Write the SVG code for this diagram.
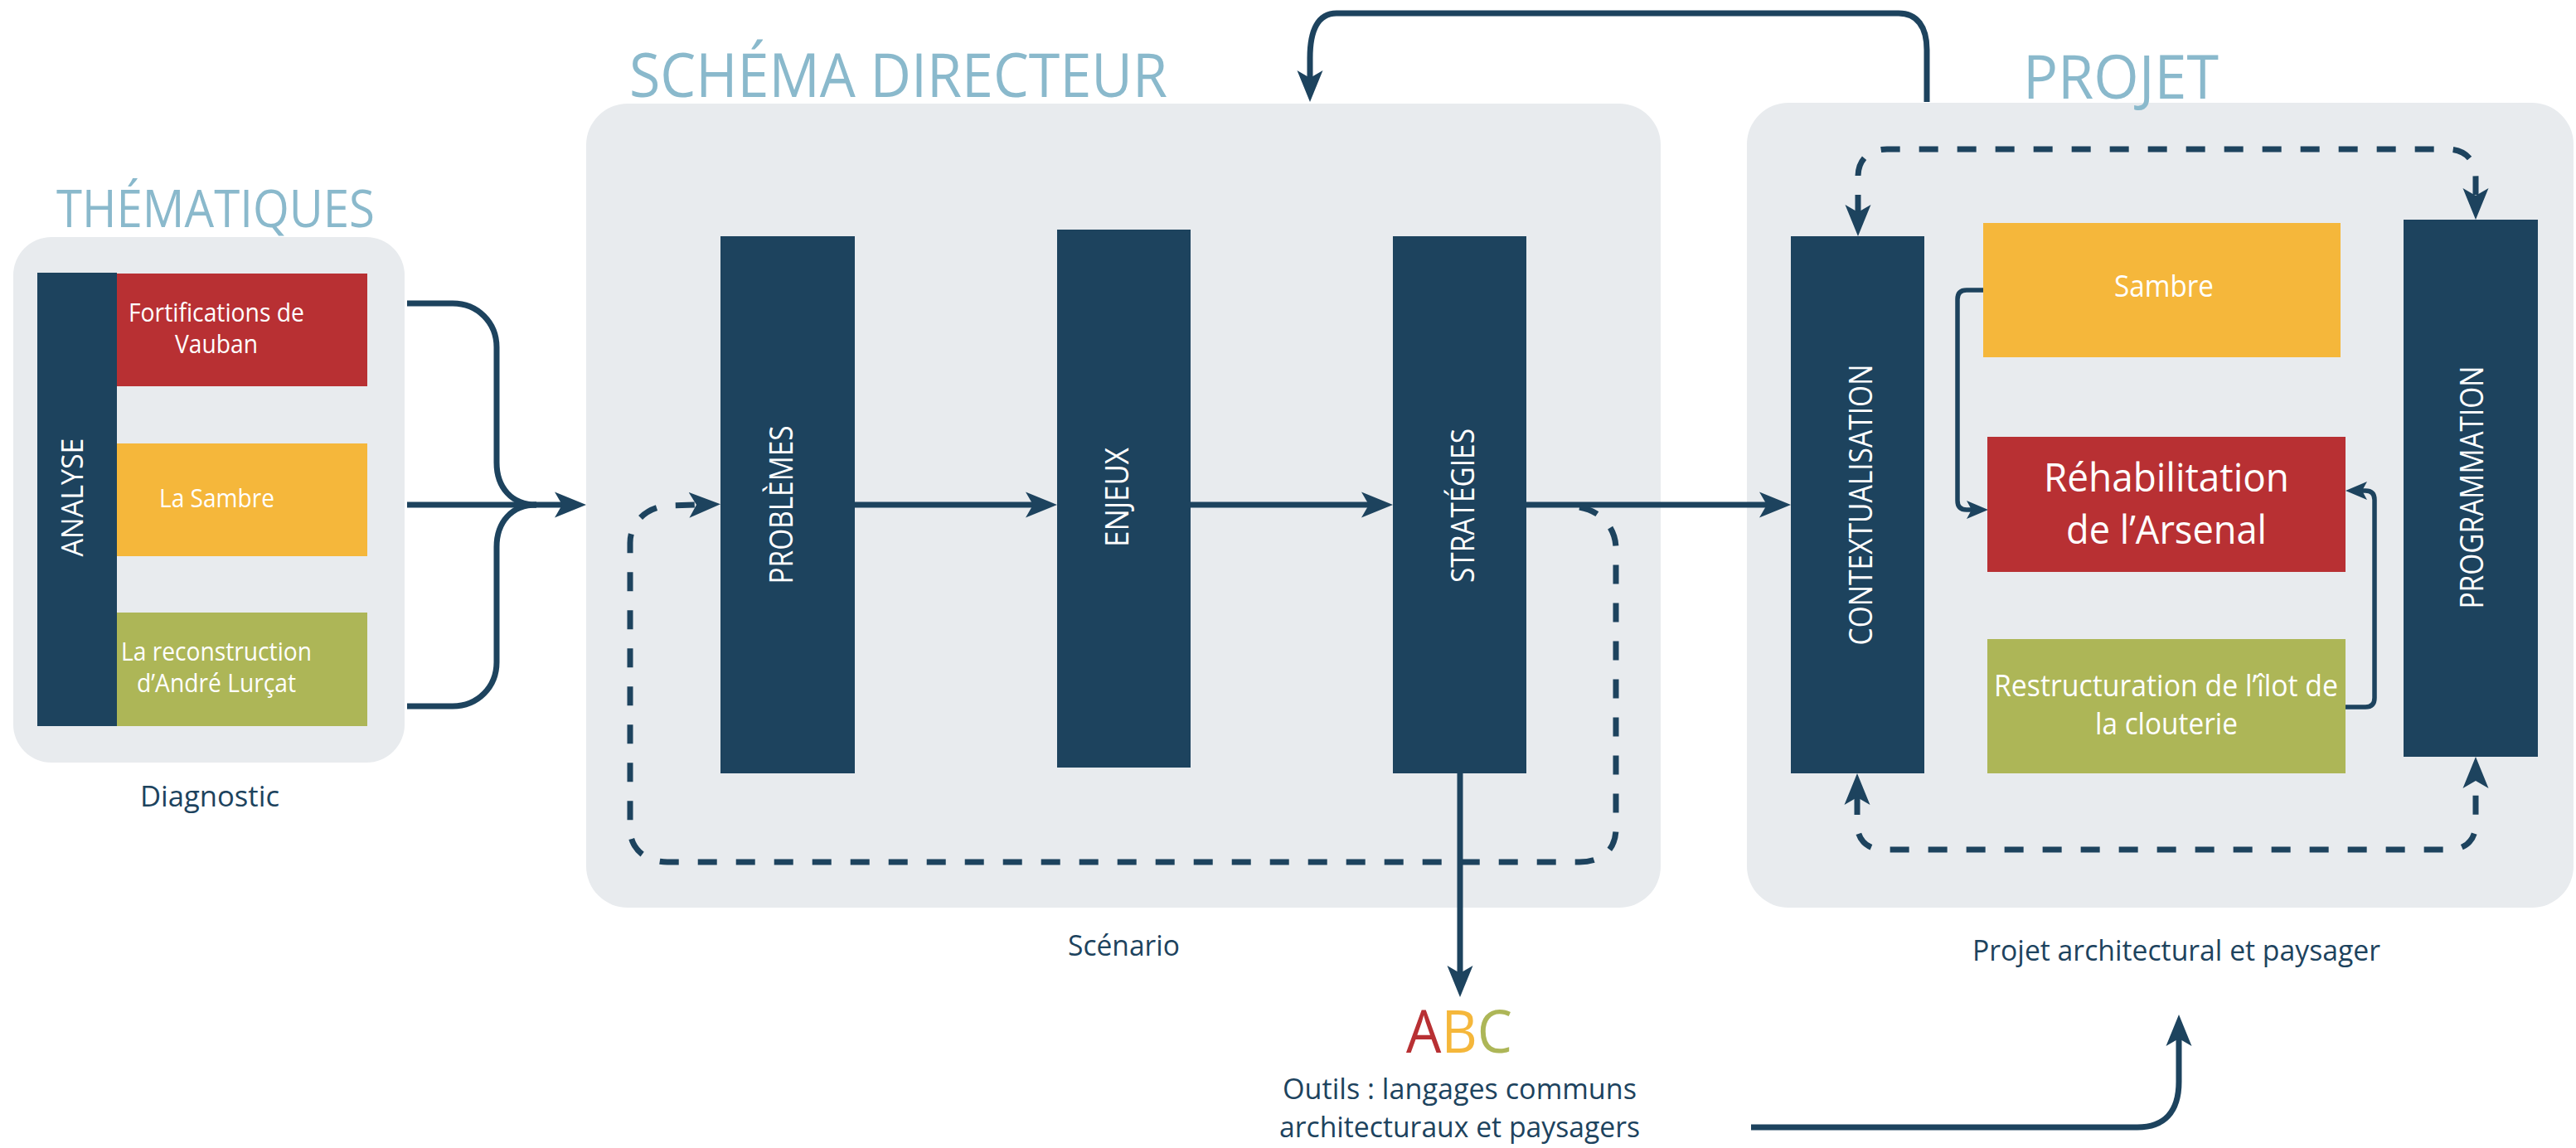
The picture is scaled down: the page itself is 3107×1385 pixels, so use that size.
<svg xmlns="http://www.w3.org/2000/svg" width="3107" height="1385" viewBox="0 0 3107 1385">
<style>
.t{font-family:"Open Sans","Liberation Sans",sans-serif;}
.title{fill:#8ab9cc;}
.w{fill:#ffffff;}
.d{fill:#1d435e;}
.panel{fill:#e8ebee;}
.navy{fill:#1d435e;}
.red{fill:#b83033;}
.yel{fill:#f5b73b;}
.grn{fill:#adb657;}
.ln{fill:none;stroke:#1d435e;stroke-width:7;}
.thin{fill:none;stroke:#1d435e;stroke-width:5.5;}
.dash{stroke-dasharray:23 23;}
</style>
<defs>
<marker id="ah" viewBox="0 -16 38 32" refX="11" refY="0" markerWidth="38" markerHeight="32" markerUnits="userSpaceOnUse" orient="auto"><path d="M0,-15.5 L38,0 L0,15.5 L9,0 Z" fill="#1d435e"/></marker>
<marker id="ahs" viewBox="0 -16 38 32" refX="11" refY="0" markerWidth="38" markerHeight="32" markerUnits="userSpaceOnUse" orient="auto-start-reverse"><path d="M0,-15.5 L38,0 L0,15.5 L9,0 Z" fill="#1d435e"/></marker>
<marker id="ahm" viewBox="0 -12 26 24" refX="8" refY="0" markerWidth="26" markerHeight="24" markerUnits="userSpaceOnUse" orient="auto"><path d="M0,-11 L26,0 L0,11 L6,0 Z" fill="#1d435e"/></marker>
</defs>
<rect width="3107" height="1385" fill="#ffffff"/>

<!-- panels -->
<g id="panel-thematiques">
<rect class="panel" x="16" y="286" width="472" height="634" rx="46"/>
<text class="t title" x="68" y="274" font-size="62" textLength="384" lengthAdjust="spacingAndGlyphs">THÉMATIQUES</text>
<text class="t d" x="169" y="973" font-size="34" textLength="168" lengthAdjust="spacingAndGlyphs">Diagnostic</text>
</g>
<g id="panel-schema">
<rect class="panel" x="707" y="125" width="1296" height="970" rx="50"/>
<text class="t title" x="759" y="117" font-size="74" textLength="649" lengthAdjust="spacingAndGlyphs">SCHÉMA DIRECTEUR</text>
<text class="t d" x="1288" y="1153" font-size="34" textLength="135" lengthAdjust="spacingAndGlyphs">Scénario</text>
</g>
<g id="panel-projet">
<rect class="panel" x="2107" y="124" width="997" height="971" rx="50"/>
<text class="t title" x="2440" y="119" font-size="73" textLength="236" lengthAdjust="spacingAndGlyphs">PROJET</text>
<text class="t d" x="2379" y="1159" font-size="34" textLength="492" lengthAdjust="spacingAndGlyphs">Projet architectural et paysager</text>
</g>

<!-- connectors -->
<g id="connectors">
<path class="ln" d="M491 366 H546 C576 366 599 389 599 419 V558 C599 588 617 609 647 609"/>
<path class="ln" d="M491 852 H546 C576 852 599 829 599 799 V660 C599 630 617 609 647 609"/>
<path class="ln" d="M491 609 H680" marker-end="url(#ah)"/>
<path class="ln" d="M1031 609 H1248" marker-end="url(#ah)"/>
<path class="ln" d="M1436 609 H1653" marker-end="url(#ah)"/>
<path class="ln" d="M1841 609 H2133" marker-end="url(#ah)"/>
<path class="ln dash" d="M1905 612 C1930 616 1949 636 1949 662 V1000 C1949 1025 1932 1040 1905 1040 H805 C780 1040 760 1025 760 1000 V655 C760 630 780 612 805 610 L842 609" marker-end="url(#ah)"/>
<path class="ln" d="M1761 933 V1176" marker-end="url(#ah)"/>
<path class="ln" d="M2324 123 V60 C2324 32 2312 16 2290 16 H1612 C1590 16 1580 36 1580 70 V96" marker-end="url(#ah)"/>
<path class="ln" stroke-width="8" d="M2112 1360 H2578 C2610 1360 2628 1342 2628 1305 V1251" marker-end="url(#ah)"/>
<path class="ln dash" d="M2241 258 V213 C2241 193 2254 180 2276 180 H2952 C2974 180 2986 194 2986 214 V238" marker-start="url(#ahs)" marker-end="url(#ah)"/>
<path class="ln dash" d="M2240 960 V994 C2240 1013 2252 1025 2272 1025 H2954 C2975 1025 2986 1012 2986 994 V940" marker-start="url(#ahs)" marker-end="url(#ah)"/>
<path class="thin" d="M2392 350 H2372 Q2361 350 2361 361 V604 Q2361 615 2372 615 H2380" marker-end="url(#ahm)"/>
<path class="thin" d="M2829 853 H2853 Q2864 853 2864 842 V603 Q2864 592 2853 592 H2847" marker-end="url(#ahm)"/>
</g>

<!-- thematiques nodes -->
<g id="node-analyse">
<rect class="navy" x="45" y="329" width="96" height="547"/>
<text class="t w" transform="translate(100,600) rotate(-90)" x="-71.5" y="0" font-size="37" textLength="143" lengthAdjust="spacingAndGlyphs">ANALYSE</text>
</g>
<g id="node-fortifications">
<rect class="red" x="141" y="330" width="302" height="136"/>
<text class="t w" x="155" y="388" font-size="31" textLength="212" lengthAdjust="spacingAndGlyphs">Fortifications de</text>
<text class="t w" x="211" y="426" font-size="31" textLength="100" lengthAdjust="spacingAndGlyphs">Vauban</text>
</g>
<g id="node-la-sambre">
<rect class="yel" x="141" y="535" width="302" height="136"/>
<text class="t w" x="192" y="612" font-size="31" textLength="139" lengthAdjust="spacingAndGlyphs">La Sambre</text>
</g>
<g id="node-reconstruction">
<rect class="grn" x="141" y="739" width="302" height="137"/>
<text class="t w" x="146" y="797" font-size="31" textLength="230" lengthAdjust="spacingAndGlyphs">La reconstruction</text>
<text class="t w" x="165" y="835" font-size="31" textLength="192" lengthAdjust="spacingAndGlyphs">d’André Lurçat</text>
</g>

<!-- schema directeur nodes -->
<g id="node-problemes">
<rect class="navy" x="869" y="285" width="162" height="648"/>
<text class="t w" transform="translate(956,609) rotate(-90)" x="-95.5" y="0" font-size="38" textLength="191" lengthAdjust="spacingAndGlyphs">PROBLÈMES</text>
</g>
<g id="node-enjeux">
<rect class="navy" x="1275" y="277" width="161" height="649"/>
<text class="t w" transform="translate(1361,600) rotate(-90)" x="-60" y="0" font-size="38" textLength="120" lengthAdjust="spacingAndGlyphs">ENJEUX</text>
</g>
<g id="node-strategies">
<rect class="navy" x="1680" y="285" width="161" height="648"/>
<text class="t w" transform="translate(1778,610) rotate(-90)" x="-93" y="0" font-size="38" textLength="186" lengthAdjust="spacingAndGlyphs">STRATÉGIES</text>
</g>

<!-- outils -->
<g id="node-outils">
<text class="t" x="1696" y="1270" font-size="71" textLength="128" lengthAdjust="spacingAndGlyphs"><tspan fill="#b83033">A</tspan><tspan fill="#f5b73b">B</tspan><tspan fill="#adb657">C</tspan></text>
<text class="t d" x="1547" y="1326" font-size="35" textLength="427" lengthAdjust="spacingAndGlyphs">Outils : langages communs</text>
<text class="t d" x="1543" y="1372" font-size="35" textLength="435" lengthAdjust="spacingAndGlyphs">architecturaux et paysagers</text>
</g>

<!-- projet nodes -->
<g id="node-contextualisation">
<rect class="navy" x="2160" y="285" width="161" height="648"/>
<text class="t w" transform="translate(2258,609) rotate(-90)" x="-169.5" y="0" font-size="38" textLength="339" lengthAdjust="spacingAndGlyphs">CONTEXTUALISATION</text>
</g>
<g id="node-programmation">
<rect class="navy" x="2899" y="265" width="162" height="648"/>
<text class="t w" transform="translate(2995,588) rotate(-90)" x="-146.5" y="0" font-size="38" textLength="293" lengthAdjust="spacingAndGlyphs">PROGRAMMATION</text>
</g>
<g id="node-sambre">
<rect class="yel" x="2392" y="269" width="431" height="162"/>
<text class="t w" x="2550" y="358" font-size="37" textLength="120" lengthAdjust="spacingAndGlyphs">Sambre</text>
</g>
<g id="node-rehabilitation">
<rect class="red" x="2397" y="527" width="432" height="163"/>
<text class="t w" x="2465" y="593" font-size="48" textLength="296" lengthAdjust="spacingAndGlyphs">Réhabilitation</text>
<text class="t w" x="2492" y="656" font-size="48" textLength="242" lengthAdjust="spacingAndGlyphs">de l’Arsenal</text>
</g>
<g id="node-restructuration">
<rect class="grn" x="2397" y="771" width="432" height="162"/>
<text class="t w" x="2405" y="840" font-size="37" textLength="415" lengthAdjust="spacingAndGlyphs">Restructuration de l’îlot de</text>
<text class="t w" x="2527" y="886" font-size="37" textLength="172" lengthAdjust="spacingAndGlyphs">la clouterie</text>
</g>
</svg>
